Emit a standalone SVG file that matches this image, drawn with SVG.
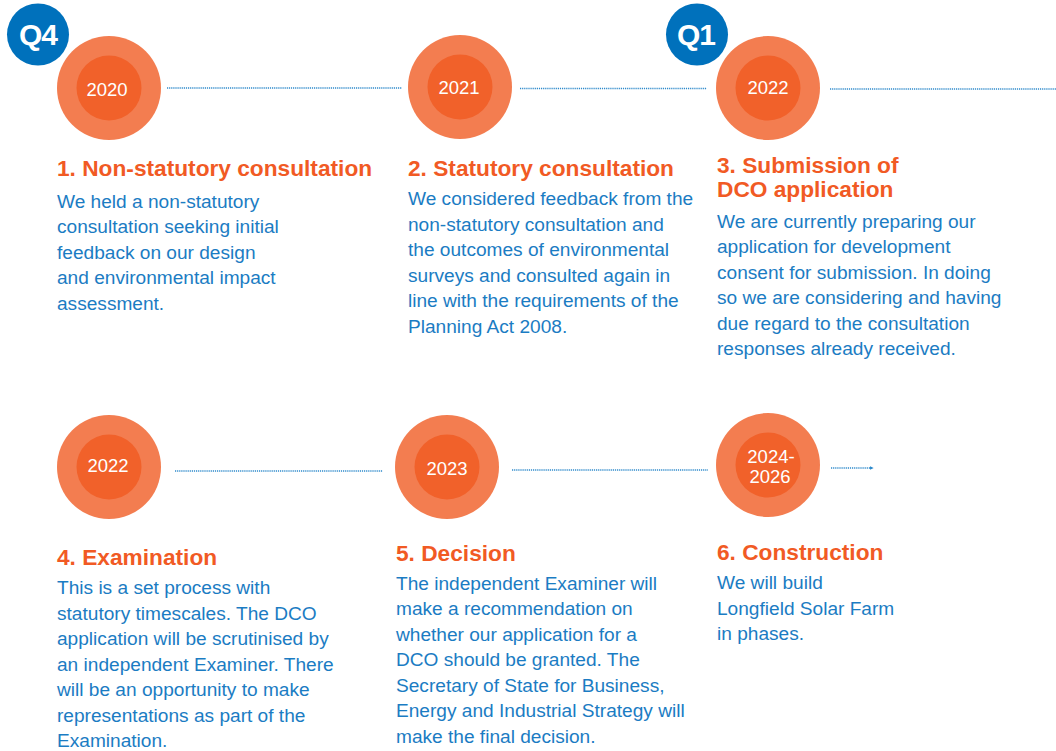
<svg xmlns="http://www.w3.org/2000/svg" width="1056" height="751" viewBox="0 0 1056 751">
<defs>
<style>
.outer{fill:#f37d50}
.inner{fill:#f1612a}
.yr{font-family:"Liberation Sans",Arial,sans-serif;font-size:18.5px;fill:#ffffff;text-anchor:middle}
.q{fill:#0071bc}
.qt{font-family:"Liberation Sans",Arial,sans-serif;font-size:30px;font-weight:bold;fill:#ffffff;text-anchor:middle;letter-spacing:-1px}
.h{font-family:"Liberation Sans",Arial,sans-serif;font-size:22.7px;font-weight:bold;fill:#f15a24}
.b{font-family:"Liberation Sans",Arial,sans-serif;font-size:19.1px;fill:#1b7cc3}
.conn{stroke:#2f8acb;stroke-width:1.3;stroke-dasharray:1.2 0.9;fill:none}
</style>
<marker id="arr" viewBox="0 0 6 6" refX="5" refY="3" markerWidth="4" markerHeight="4" orient="auto" markerUnits="userSpaceOnUse">
<path d="M0,0 L6,3 L0,6 Z" fill="#2f8acb"/>
</marker>
</defs>
<rect width="1056" height="751" fill="#ffffff"/>

<g id="connectors">
<line class="conn" x1="167" y1="88" x2="402" y2="88"/>
<line class="conn" x1="520" y1="88.5" x2="707" y2="88.5"/>
<line class="conn" x1="830" y1="89" x2="1056" y2="89"/>
<line class="conn" x1="175" y1="471" x2="383" y2="471"/>
<line class="conn" x1="512" y1="470" x2="708" y2="470"/>
<line class="conn" x1="831" y1="468" x2="873" y2="468" marker-end="url(#arr)"/>
</g>

<g id="node1">
<circle class="outer" cx="109" cy="88" r="52"/>
<circle class="inner" cx="109" cy="88" r="32.5"/>
<text class="yr" x="107" y="95.5">2020</text>
<text class="h" x="57" y="176">1. Non-statutory consultation</text>
<text class="b" x="57" y="207.5">We held a non-statutory</text>
<text class="b" x="57" y="233">consultation seeking initial</text>
<text class="b" x="57" y="258.5">feedback on our design</text>
<text class="b" x="57" y="284">and environmental impact</text>
<text class="b" x="57" y="309.5">assessment.</text>
</g>
<g id="badgeQ4">
<circle class="q" cx="38" cy="34.5" r="31"/>
<text class="qt" x="38" y="45">Q4</text>
</g>

<g id="node2">
<circle class="outer" cx="460" cy="87" r="52"/>
<circle class="inner" cx="460" cy="87" r="32.5"/>
<text class="yr" x="459" y="94">2021</text>
<text class="h" x="408" y="176">2. Statutory consultation</text>
<text class="b" x="408" y="205">We considered feedback from the</text>
<text class="b" x="408" y="230.5">non-statutory consultation and</text>
<text class="b" x="408" y="256">the outcomes of environmental</text>
<text class="b" x="408" y="281.5">surveys and consulted again in</text>
<text class="b" x="408" y="307">line with the requirements of the</text>
<text class="b" x="408" y="332.5">Planning Act 2008.</text>
</g>

<g id="node3">
<circle class="outer" cx="768" cy="88" r="52"/>
<circle class="inner" cx="768" cy="88" r="32.5"/>
<text class="yr" x="768" y="94">2022</text>
<text class="h" x="717" y="173">3. Submission of</text>
<text class="h" x="717" y="197">DCO application</text>
<text class="b" x="717" y="227.5">We are currently preparing our</text>
<text class="b" x="717" y="253">application for development</text>
<text class="b" x="717" y="278.5">consent for submission. In doing</text>
<text class="b" x="717" y="304">so we are considering and having</text>
<text class="b" x="717" y="329.5">due regard to the consultation</text>
<text class="b" x="717" y="355">responses already received.</text>
</g>
<g id="badgeQ1">
<circle class="q" cx="697" cy="34.5" r="31"/>
<text class="qt" x="696" y="45">Q1</text>
</g>

<g id="node4">
<circle class="outer" cx="109" cy="467" r="52"/>
<circle class="inner" cx="109" cy="467" r="32.5"/>
<text class="yr" x="108" y="472">2022</text>
<text class="h" x="57" y="565">4. Examination</text>
<text class="b" x="57" y="594">This is a set process with</text>
<text class="b" x="57" y="619.5">statutory timescales. The DCO</text>
<text class="b" x="57" y="645">application will be scrutinised by</text>
<text class="b" x="57" y="670.5">an independent Examiner. There</text>
<text class="b" x="57" y="696">will be an opportunity to make</text>
<text class="b" x="57" y="721.5">representations as part of the</text>
<text class="b" x="57" y="747">Examination.</text>
</g>

<g id="node5">
<circle class="outer" cx="447" cy="467" r="52"/>
<circle class="inner" cx="447" cy="467" r="32.5"/>
<text class="yr" x="447" y="475">2023</text>
<text class="h" x="396" y="561">5. Decision</text>
<text class="b" x="396" y="589.5">The independent Examiner will</text>
<text class="b" x="396" y="615">make a recommendation on</text>
<text class="b" x="396" y="640.5">whether our application for a</text>
<text class="b" x="396" y="666">DCO should be granted. The</text>
<text class="b" x="396" y="691.5">Secretary of State for Business,</text>
<text class="b" x="396" y="717">Energy and Industrial Strategy will</text>
<text class="b" x="396" y="742.5">make the final decision.</text>
</g>

<g id="node6">
<circle class="outer" cx="768" cy="465" r="52"/>
<circle class="inner" cx="768" cy="465" r="32.5"/>
<text class="yr" x="771" y="463">2024-</text>
<text class="yr" x="770" y="483">2026</text>
<text class="h" x="717" y="560">6. Construction</text>
<text class="b" x="717" y="589">We will build</text>
<text class="b" x="717" y="614.5">Longfield Solar Farm</text>
<text class="b" x="717" y="640">in phases.</text>
</g>
</svg>
